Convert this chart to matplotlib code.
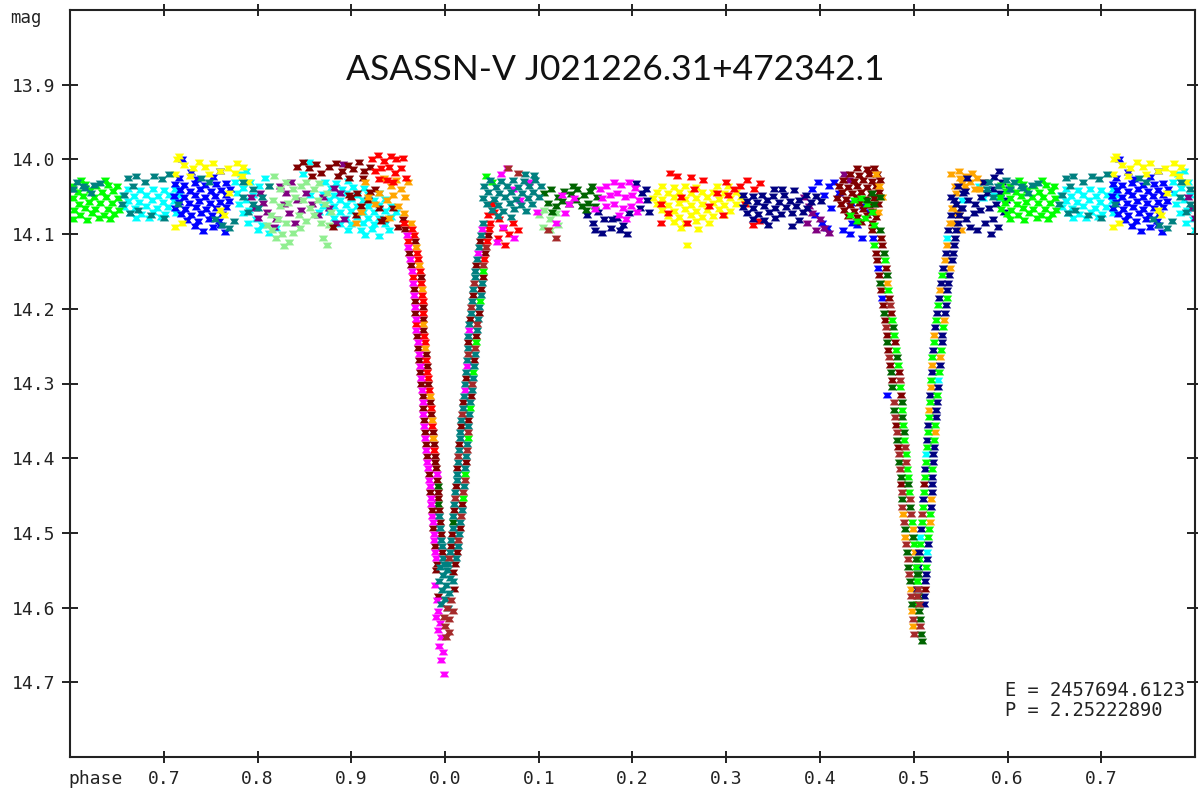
import matplotlib
matplotlib.use("Agg")
import matplotlib.pyplot as plt
from matplotlib.path import Path

TITLE = "ASASSN-V J021226.31+472342.1"
EPOCH_TEXT = "E = 2457694.6123"
PERIOD_TEXT = "P = 2.25222890"
XTICKS = [0.7, 0.8, 0.9, 1.0, 1.1, 1.2, 1.3, 1.4, 1.5, 1.6, 1.7]
XTICK_LABELS = ["0.7", "0.8", "0.9", "0.0", "0.1", "0.2", "0.3", "0.4", "0.5", "0.6", "0.7"]
YTICKS = [13.9, 14.0, 14.1, 14.2, 14.3, 14.4, 14.5, 14.6, 14.7]
YTICK_LABELS = ["13.9", "14.0", "14.1", "14.2", "14.3", "14.4", "14.5", "14.6", "14.7"]

# (phase, mag) points per observing season / colour
CYAN_PTS = [
    (0.662,14.040),(0.675,14.041),(0.688,14.039),(0.700,14.041),(0.712,14.040),
    (0.657,14.048),(0.668,14.049),(0.681,14.047),(0.694,14.049),(0.706,14.048),(0.716,14.047),
    (0.662,14.056),(0.674,14.057),(0.687,14.055),(0.699,14.057),(0.711,14.056),
    (0.658,14.064),(0.669,14.065),(0.681,14.063),(0.693,14.065),(0.705,14.064),
    (0.664,14.072),(0.676,14.073),(0.689,14.071),(0.701,14.073),(0.713,14.072),
    (0.670,14.078),(0.684,14.079),(0.697,14.077),
    (0.776,14.030),(0.782,14.020),(0.788,14.015),(0.778,14.045),(0.785,14.038),(0.792,14.030),
    (0.780,14.060),(0.788,14.055),(0.795,14.048),(0.784,14.072),(0.791,14.068),(0.798,14.080),
    (0.790,14.085),(0.800,14.095),(0.805,14.088),(0.812,14.098),(0.802,14.035),(0.808,14.025),
    (0.820,14.092),(0.855,14.003),(0.848,14.020),(0.856,14.048),(0.866,14.070),
    (0.872,14.030),(0.884,14.031),(0.896,14.029),
    (0.878,14.038),(0.890,14.039),(0.902,14.037),(0.914,14.038),
    (0.870,14.046),(0.882,14.047),(0.894,14.045),(0.906,14.047),(0.918,14.046),(0.930,14.045),
    (0.876,14.054),(0.888,14.055),(0.900,14.053),(0.912,14.055),(0.924,14.054),(0.936,14.053),
    (0.870,14.062),(0.882,14.063),(0.894,14.061),(0.906,14.063),(0.918,14.062),(0.930,14.061),(0.942,14.063),
    (0.876,14.070),(0.888,14.071),(0.900,14.069),(0.912,14.071),(0.924,14.070),(0.936,14.069),(0.948,14.071),
    (0.882,14.078),(0.894,14.079),(0.906,14.077),(0.918,14.079),(0.930,14.078),(0.942,14.077),
    (0.888,14.086),(0.900,14.087),(0.912,14.085),(0.924,14.087),(0.936,14.086),
    (0.896,14.094),(0.910,14.095),(0.922,14.093),(0.940,14.095),(0.915,14.101),(0.930,14.102),
    (0.551,14.055),(0.536,14.105),(0.526,14.295),(0.513,14.395),(0.507,14.505),(0.514,14.525),
    (0.570,14.035),(0.578,14.040),(0.586,14.048),(0.592,14.052),(0.574,14.052),
]

BLUE_PTS = [
    (0.716,14.025),(0.735,14.026),(0.752,14.024),
    (0.712,14.033),(0.722,14.034),(0.733,14.032),(0.744,14.034),(0.756,14.033),(0.766,14.032),
    (0.717,14.041),(0.728,14.042),(0.739,14.040),(0.750,14.042),(0.761,14.041),(0.771,14.040),
    (0.711,14.049),(0.722,14.050),(0.733,14.048),(0.744,14.050),(0.755,14.049),(0.766,14.048),
    (0.716,14.057),(0.727,14.058),(0.738,14.056),(0.749,14.058),(0.760,14.057),(0.770,14.056),
    (0.712,14.065),(0.723,14.066),(0.734,14.064),(0.745,14.066),(0.756,14.065),(0.766,14.064),
    (0.718,14.073),(0.729,14.074),(0.740,14.072),(0.751,14.074),(0.762,14.073),
    (0.725,14.081),(0.737,14.082),(0.748,14.080),(0.759,14.082),
    (0.733,14.089),(0.752,14.090),(0.760,14.088),(0.742,14.096),(0.765,14.097),
    (0.729,14.017),(0.760,14.016),(0.719,14.000),
    (0.392,14.040),(0.398,14.030),(0.404,14.048),(0.410,14.035),(0.395,14.075),(0.402,14.085),
    (0.408,14.092),(0.412,14.065),(0.415,14.030),(0.425,14.095),(0.432,14.100),(0.440,14.088),
    (0.445,14.105),(0.420,14.045),
    (0.433,14.058),(0.446,14.062),(0.452,14.070),(0.434,14.085),
    (0.457,14.105),(0.462,14.145),(0.466,14.185),(0.472,14.315),
]

YELLOW_PTS = [
    (0.714,14.000),(0.716,13.995),(0.722,14.008),(0.731,14.012),(0.738,14.003),(0.744,14.010),
    (0.752,14.005),(0.760,14.016),(0.768,14.012),(0.776,14.018),(0.783,14.022),(0.790,14.030),
    (0.712,14.020),(0.719,14.085),(0.712,14.090),(0.760,14.068),(0.764,14.075),(0.728,14.022),
    (0.748,14.020),(0.770,14.045),(0.785,14.010),(0.778,14.005),
    (0.232,14.036),(0.244,14.037),(0.256,14.035),(0.268,14.037),(0.290,14.036),(0.302,14.035),
    (0.226,14.044),(0.238,14.045),(0.250,14.043),(0.262,14.045),(0.274,14.044),(0.286,14.043),(0.298,14.045),(0.310,14.044),
    (0.222,14.052),(0.232,14.053),(0.244,14.051),(0.256,14.053),(0.268,14.052),(0.280,14.051),(0.292,14.053),(0.304,14.052),(0.316,14.051),
    (0.226,14.060),(0.238,14.061),(0.250,14.059),(0.262,14.061),(0.274,14.060),(0.286,14.059),(0.298,14.061),(0.310,14.060),(0.320,14.059),
    (0.232,14.068),(0.244,14.069),(0.256,14.067),(0.268,14.069),(0.280,14.068),(0.292,14.067),(0.304,14.069),
    (0.238,14.076),(0.250,14.077),(0.262,14.075),(0.274,14.077),(0.286,14.076),(0.298,14.075),
    (0.244,14.084),(0.256,14.085),(0.268,14.083),(0.282,14.085),(0.252,14.092),(0.270,14.093),
    (0.258,14.115),
]

PURPLE_PTS = [
    (0.793,14.050),(0.797,14.065),(0.800,14.078),(0.806,14.058),(0.810,14.070),(0.803,14.045),
    (0.824,14.035),(0.830,14.045),(0.836,14.030),(0.842,14.055),(0.828,14.060),(0.834,14.072),
    (0.840,14.085),(0.846,14.068),(0.852,14.045),(0.858,14.060),(0.864,14.075),(0.870,14.050),
    (0.882,14.038),(0.888,14.045),(0.884,14.085),(0.892,14.080),(0.891,14.006),(0.876,14.065),
    (0.818,14.090),(0.820,14.080),
    (0.383,14.050),(0.388,14.062),(0.392,14.072),(0.386,14.085),(0.396,14.095),(0.400,14.080),
    (0.404,14.092),(0.410,14.098),(0.426,14.020),(0.431,14.028),
]

LIGHTGREEN_PTS = [
    (0.812,14.035),(0.818,14.022),(0.824,14.040),(0.830,14.030),(0.838,14.040),(0.846,14.035),
    (0.852,14.030),(0.860,14.040),(0.866,14.032),(0.874,14.045),(0.816,14.055),(0.824,14.062),
    (0.832,14.058),(0.840,14.050),(0.848,14.055),(0.856,14.065),(0.864,14.055),(0.872,14.060),
    (0.878,14.070),(0.814,14.075),(0.822,14.080),(0.830,14.085),(0.844,14.075),(0.852,14.082),
    (0.860,14.075),(0.868,14.085),(0.876,14.088),(0.815,14.095),(0.820,14.105),(0.826,14.100),
    (0.834,14.110),(0.838,14.098),(0.828,14.116),(0.870,14.105),(0.874,14.115),(0.845,14.092),
    (0.810,14.088),
    (0.100,14.075),(0.106,14.068),(0.112,14.080),(0.118,14.072),(0.104,14.090),(0.112,14.095),(0.120,14.088),
]

MAROON_PTS = [
    (0.842,14.010),(0.848,14.004),(0.855,14.012),(0.862,14.006),(0.868,14.018),(0.876,14.010),
    (0.884,14.005),(0.890,14.015),(0.896,14.008),(0.902,14.013),(0.908,14.004),(0.914,14.016),
    (0.920,14.010),(0.886,14.022),(0.898,14.025),(0.912,14.025),(0.858,14.022),(0.900,14.050),
    (0.906,14.045),(0.918,14.055),(0.925,14.040),(0.930,14.065),(0.935,14.080),(0.880,14.090),
    (0.898,14.048),(0.910,14.062),(0.920,14.044),(0.905,14.075),(0.932,14.082),(0.945,14.065),
    (0.950,14.090),(0.955,14.080),
    (0.440,14.012),(0.450,14.013),(0.458,14.011),
    (0.432,14.020),(0.442,14.021),(0.452,14.019),(0.461,14.020),
    (0.425,14.028),(0.436,14.029),(0.446,14.027),(0.456,14.029),(0.464,14.028),
    (0.420,14.036),(0.430,14.037),(0.440,14.035),(0.450,14.037),(0.460,14.036),
    (0.424,14.044),(0.434,14.045),(0.444,14.043),(0.454,14.045),(0.463,14.044),
    (0.418,14.052),(0.428,14.053),(0.438,14.051),(0.448,14.053),(0.458,14.052),
    (0.422,14.060),(0.432,14.061),(0.442,14.059),(0.452,14.061),(0.462,14.060),
    (0.426,14.068),(0.436,14.069),(0.446,14.067),(0.456,14.069),
    (0.430,14.076),(0.440,14.077),(0.450,14.075),(0.460,14.077),(0.444,14.084),(0.455,14.085),
    (0.957,14.093),(0.968,14.109),(0.962,14.125),(0.964,14.141),(0.974,14.157),(0.967,14.173),
    (0.968,14.189),(0.976,14.197),(0.968,14.205),(0.977,14.213),(0.977,14.229),(0.970,14.237),
    (0.971,14.253),(0.980,14.261),(0.972,14.269),(0.981,14.277),(0.973,14.285),(0.974,14.301),
    (0.982,14.301),(0.976,14.317),(0.984,14.325),(0.977,14.333),(0.985,14.341),(0.978,14.349),
    (0.979,14.365),(0.987,14.365),(0.980,14.381),(0.988,14.381),(0.981,14.397),(0.989,14.397),
    (0.989,14.405),(0.990,14.413),(0.983,14.421),(0.991,14.429),(0.984,14.445),(0.992,14.445),
    (0.993,14.453),(0.986,14.469),(0.994,14.469),(0.995,14.485),(0.987,14.493),(0.996,14.501),
    (0.989,14.517),(0.997,14.525),(0.991,14.541),
    (0.046,14.101),(0.037,14.109),(0.043,14.125),(0.033,14.141),(0.040,14.157),(0.038,14.173),
    (0.030,14.181),(0.036,14.205),(0.027,14.213),(0.033,14.237),(0.025,14.245),(0.031,14.269),
    (0.022,14.293),(0.028,14.317),(0.019,14.325),(0.025,14.349),(0.017,14.357),(0.015,14.381),
    (0.022,14.405),(0.013,14.413),(0.012,14.437),(0.018,14.461),(0.010,14.469),(0.016,14.493),
    (0.007,14.501),(0.006,14.517),(0.013,14.525),(0.011,14.541),
    (0.990,14.550),(0.008,14.552),(0.010,14.575),(0.992,14.585),
    (0.456,14.095),(0.465,14.105),(0.466,14.115),(0.460,14.125),(0.461,14.135),(0.470,14.145),
    (0.463,14.155),(0.465,14.175),(0.474,14.185),(0.467,14.195),(0.476,14.205),(0.469,14.215),
    (0.471,14.235),(0.480,14.245),(0.473,14.255),(0.475,14.275),(0.484,14.285),(0.477,14.295),
    (0.486,14.315),(0.481,14.355),(0.483,14.385),(0.486,14.435),
    (0.511,14.435),(0.512,14.575),
]

ORANGE_PTS = [
    (0.935,14.025),(0.942,14.035),(0.948,14.028),(0.953,14.040),(0.957,14.050),(0.945,14.048),
    (0.938,14.055),(0.930,14.045),(0.925,14.060),(0.950,14.062),(0.956,14.072),(0.918,14.050),
    (0.910,14.070),(0.905,14.085),(0.940,14.078),(0.960,14.030),(0.915,14.030),
    (0.540,14.020),(0.548,14.015),(0.556,14.022),(0.562,14.018),(0.568,14.025),(0.574,14.030),
    (0.544,14.035),(0.552,14.032),(0.560,14.030),(0.541,14.065),(0.546,14.072),(0.543,14.085),
    (0.550,14.095),(0.565,14.040),(0.571,14.040),
    (0.460,14.020),(0.463,14.035),(0.466,14.050),(0.462,14.070),
    (0.964,14.085),(0.969,14.117),(0.972,14.141),(0.975,14.173),(0.977,14.221),(0.979,14.253),
    (0.984,14.317),(0.986,14.349),(0.987,14.373),
    (0.472,14.165),(0.489,14.475),(0.499,14.495),(0.491,14.505),(0.501,14.525),(0.497,14.575),
    (0.498,14.605),(0.499,14.625),
    (0.549,14.025),(0.555,14.035),(0.545,14.045),(0.542,14.065),(0.548,14.075),(0.539,14.085),
    (0.535,14.115),(0.533,14.135),(0.539,14.145),(0.528,14.175),(0.532,14.215),(0.522,14.235),
    (0.528,14.265),(0.520,14.275),(0.518,14.305),(0.516,14.335),(0.523,14.365),(0.518,14.455),
    (0.517,14.485),
]

RED_PTS = [
    (0.922,14.000),(0.928,13.994),(0.935,14.002),(0.942,13.996),(0.948,14.000),(0.955,13.998),
    (0.925,14.015),(0.932,14.012),(0.940,14.010),(0.947,14.018),(0.953,14.012),(0.930,14.026),
    (0.938,14.028),(0.945,14.030),(0.958,14.025),
    (0.240,14.018),(0.248,14.022),(0.262,14.024),(0.275,14.028),(0.300,14.030),(0.308,14.040),
    (0.315,14.035),(0.322,14.028),(0.330,14.040),(0.336,14.032),(0.302,14.048),(0.230,14.060),
    (0.238,14.072),(0.252,14.050),(0.258,14.085),(0.266,14.040),(0.282,14.062),(0.290,14.045),
    (0.328,14.088),(0.335,14.082),(0.320,14.060),(0.296,14.075),(0.230,14.085),
    (0.956,14.085),(0.965,14.093),(0.967,14.101),(0.960,14.109),(0.970,14.125),(0.971,14.133),
    (0.973,14.149),(0.966,14.157),(0.974,14.165),(0.975,14.181),(0.976,14.189),(0.976,14.205),
    (0.969,14.221),(0.978,14.237),(0.979,14.245),(0.980,14.269),(0.981,14.285),(0.982,14.293),
    (0.983,14.309),(0.985,14.333),(0.986,14.357),(0.988,14.389),
    (0.048,14.085),(0.047,14.093),(0.045,14.109),(0.042,14.133),
    (0.052,14.070),(0.058,14.080),(0.062,14.092),(0.068,14.100),(0.056,14.105),(0.064,14.115),
    (0.072,14.085),(0.078,14.095),(0.050,14.060),(0.046,14.075),
]

NAVY_PTS = [
    (0.152,14.075),(0.158,14.085),(0.163,14.070),(0.170,14.080),(0.177,14.092),(0.184,14.078),
    (0.190,14.088),(0.196,14.072),(0.168,14.098),(0.178,14.080),(0.187,14.095),(0.160,14.095),
    (0.194,14.100),(0.204,14.032),(0.210,14.045),(0.215,14.055),(0.208,14.065),(0.214,14.040),
    (0.218,14.070),
    (0.318,14.048),(0.328,14.049),(0.338,14.047),(0.350,14.049),(0.362,14.048),(0.385,14.047),(0.396,14.049),
    (0.322,14.056),(0.333,14.057),(0.344,14.055),(0.356,14.057),(0.368,14.056),(0.378,14.055),(0.390,14.057),(0.401,14.056),
    (0.318,14.064),(0.328,14.065),(0.340,14.063),(0.352,14.065),(0.364,14.064),(0.374,14.063),(0.386,14.065),
    (0.322,14.072),(0.334,14.073),(0.346,14.071),(0.358,14.073),(0.370,14.072),(0.382,14.071),
    (0.328,14.080),(0.340,14.081),(0.352,14.079),(0.378,14.081),(0.345,14.088),(0.370,14.089),
    (0.360,14.040),(0.372,14.041),(0.351,14.039),
    (0.557,14.025),(0.547,14.035),(0.553,14.045),(0.543,14.055),(0.550,14.065),(0.540,14.075),
    (0.547,14.085),(0.537,14.095),(0.545,14.095),(0.544,14.105),(0.543,14.115),(0.534,14.125),
    (0.542,14.125),(0.541,14.135),(0.531,14.145),(0.538,14.155),(0.529,14.165),(0.537,14.165),
    (0.536,14.175),(0.527,14.185),(0.534,14.195),(0.525,14.205),(0.533,14.205),(0.523,14.225),
    (0.530,14.235),(0.530,14.245),(0.521,14.255),(0.528,14.275),(0.519,14.285),(0.526,14.305),
    (0.517,14.315),(0.525,14.325),(0.524,14.335),(0.524,14.345),(0.515,14.355),(0.514,14.375),
    (0.522,14.385),(0.521,14.395),(0.521,14.405),(0.512,14.415),(0.520,14.425),(0.519,14.435),
    (0.519,14.445),(0.510,14.455),(0.518,14.465),(0.508,14.495),(0.515,14.515),(0.506,14.525),
    (0.514,14.535),(0.505,14.545),(0.513,14.555),(0.512,14.565),(0.504,14.575),(0.511,14.585),
    (0.511,14.595),
    (0.545,14.060),(0.552,14.065),(0.558,14.055),(0.565,14.060),(0.572,14.050),(0.578,14.045),
    (0.585,14.040),(0.592,14.045),(0.598,14.055),(0.548,14.075),(0.556,14.080),(0.564,14.072),
    (0.571,14.068),(0.580,14.065),(0.588,14.060),(0.596,14.070),(0.560,14.090),(0.568,14.095),
    (0.576,14.085),(0.585,14.080),(0.590,14.090),(0.582,14.100),(0.602,14.040),(0.594,14.030),
    (0.586,14.024),(0.591,14.015),(0.575,14.030),(0.555,14.042),(0.540,14.050),
]

LIME_PTS = [
    (0.593,14.034),(0.603,14.036),(0.616,14.033),(0.628,14.035),(0.641,14.034),(0.650,14.036),
    (0.598,14.042),(0.609,14.044),(0.621,14.041),(0.634,14.043),(0.646,14.042),
    (0.592,14.050),(0.603,14.052),(0.614,14.049),(0.626,14.051),(0.638,14.050),(0.651,14.052),
    (0.597,14.058),(0.610,14.060),(0.620,14.057),(0.632,14.059),(0.645,14.058),
    (0.593,14.066),(0.604,14.068),(0.616,14.065),(0.627,14.067),(0.640,14.066),(0.652,14.068),
    (0.599,14.073),(0.611,14.075),(0.623,14.072),(0.636,14.074),(0.647,14.073),
    (0.603,14.080),(0.618,14.081),(0.631,14.079),(0.643,14.080),(0.612,14.028),(0.637,14.028),
    (0.040,14.149),(0.037,14.189),(0.033,14.245),(0.030,14.285),(0.027,14.333),(0.024,14.373),
    (0.021,14.421),(0.019,14.453),(0.044,14.022),(0.050,14.030),
    (0.458,14.115),(0.469,14.135),(0.473,14.175),(0.477,14.215),(0.479,14.235),(0.481,14.255),
    (0.483,14.275),(0.485,14.305),(0.487,14.335),(0.489,14.355),(0.490,14.375),(0.492,14.395),
    (0.493,14.415),(0.494,14.425),(0.495,14.445),(0.498,14.485),(0.500,14.515),(0.502,14.545),
    (0.504,14.565),
    (0.530,14.155),(0.535,14.185),(0.526,14.195),(0.524,14.215),(0.531,14.225),(0.522,14.245),
    (0.529,14.255),(0.520,14.265),(0.527,14.285),(0.518,14.295),(0.525,14.315),(0.517,14.325),
    (0.516,14.345),(0.523,14.355),(0.515,14.365),(0.522,14.375),(0.514,14.385),(0.513,14.405),
    (0.520,14.415),(0.512,14.425),(0.511,14.445),(0.510,14.465),(0.517,14.475),(0.509,14.485),
    (0.516,14.495),(0.515,14.505),(0.507,14.515),(0.506,14.535),(0.513,14.545),(0.504,14.565),
    (0.503,14.595),
    (0.432,14.075),(0.440,14.082),(0.448,14.078),(0.455,14.070),(0.436,14.055),(0.444,14.052),
    (0.450,14.060),(0.458,14.088),
]

DARKGREEN_PTS = [
    (0.106,14.045),(0.113,14.040),(0.120,14.050),(0.127,14.042),(0.134,14.046),(0.141,14.040),
    (0.148,14.048),(0.155,14.042),(0.162,14.050),(0.110,14.058),(0.118,14.062),(0.125,14.056),
    (0.132,14.060),(0.140,14.055),(0.146,14.062),(0.153,14.058),(0.160,14.062),(0.150,14.068),
    (0.114,14.070),(0.137,14.036),(0.157,14.035),
    (0.450,14.055),(0.458,14.060),(0.464,14.050),(0.455,14.045),
    (0.992,14.437),(0.993,14.461),(0.008,14.485),(0.505,14.555),
    (0.464,14.095),(0.468,14.125),(0.471,14.155),(0.464,14.165),(0.468,14.205),(0.478,14.225),
    (0.472,14.245),(0.482,14.265),(0.476,14.285),(0.477,14.305),(0.487,14.325),(0.479,14.335),
    (0.488,14.345),(0.490,14.365),(0.482,14.375),(0.484,14.405),(0.486,14.425),(0.494,14.435),
    (0.488,14.455),(0.496,14.465),(0.491,14.495),(0.499,14.505),(0.493,14.525),(0.502,14.535),
    (0.494,14.545),(0.503,14.555),(0.496,14.565),(0.505,14.585),(0.498,14.595),(0.506,14.605),
    (0.507,14.615),(0.508,14.635),(0.509,14.645),
]

MAGENTA_PTS = [
    (0.165,14.040),(0.172,14.035),(0.180,14.030),(0.188,14.034),(0.196,14.030),(0.203,14.038),
    (0.168,14.052),(0.176,14.048),(0.184,14.045),(0.192,14.050),(0.200,14.048),(0.207,14.055),
    (0.172,14.062),(0.180,14.060),(0.190,14.065),(0.198,14.062),(0.205,14.070),(0.160,14.066),
    (0.186,14.075),(0.193,14.080),(0.125,14.048),(0.132,14.060),(0.138,14.052),(0.128,14.072),
    (0.118,14.085),(0.060,14.020),(0.066,14.012),(0.072,14.040),(0.080,14.055),(0.090,14.030),
    (0.098,14.070),(0.062,14.090),(0.074,14.105),(0.055,14.110),
    (0.959,14.101),(0.961,14.117),(0.963,14.133),(0.965,14.149),(0.966,14.165),(0.967,14.181),
    (0.968,14.197),(0.969,14.213),(0.969,14.229),(0.971,14.245),(0.972,14.261),(0.973,14.277),
    (0.974,14.293),(0.975,14.309),(0.976,14.325),(0.977,14.341),(0.978,14.357),(0.979,14.373),
    (0.980,14.389),(0.981,14.405),(0.982,14.413),(0.991,14.421),(0.983,14.429),(0.984,14.437),
    (0.985,14.453),(0.985,14.461),(0.986,14.477),(0.987,14.485),(0.988,14.501),(0.988,14.509),
    (0.989,14.525),(0.990,14.533),
    (0.039,14.093),(0.035,14.125),(0.026,14.229),(0.023,14.277),(0.021,14.309),
    (0.989,14.570),(0.991,14.590),(0.993,14.605),(0.990,14.612),(0.995,14.620),(0.993,14.630),
    (0.996,14.640),(0.994,14.652),(0.998,14.660),(0.996,14.670),(0.9985,14.689),
]

TEAL_PTS = [
    (0.578,14.040),(0.585,14.050),(0.590,14.035),(0.607,14.030),(0.616,14.038),(0.626,14.034),
    (0.622,14.045),(0.632,14.032),(0.580,14.030),(0.598,14.028),(0.603,14.040),(0.614,14.036),
    (0.662,14.025),(0.670,14.022),(0.680,14.030),(0.667,14.035),(0.690,14.022),(0.698,14.026),
    (0.706,14.020),(0.664,14.072),(0.672,14.068),(0.686,14.074),(0.700,14.078),(0.715,14.060),
    (0.740,14.025),(0.748,14.030),(0.755,14.080),(0.762,14.088),(0.770,14.092),(0.775,14.082),
    (0.784,14.050),(0.790,14.070),(0.795,14.060),(0.655,14.060),(0.658,14.048),
    (0.785,14.030),(0.795,14.040),(0.805,14.050),(0.812,14.035),(0.800,14.065),
    (0.085,14.020),(0.095,14.021),
    (0.048,14.028),(0.060,14.029),(0.072,14.027),(0.084,14.029),(0.096,14.028),
    (0.042,14.036),(0.054,14.037),(0.066,14.035),(0.078,14.037),(0.090,14.036),(0.102,14.035),
    (0.046,14.044),(0.058,14.045),(0.070,14.043),(0.082,14.045),(0.094,14.044),
    (0.040,14.052),(0.052,14.053),(0.064,14.051),(0.076,14.053),(0.088,14.052),(0.100,14.051),
    (0.045,14.060),(0.057,14.061),(0.069,14.059),(0.081,14.061),(0.093,14.060),
    (0.050,14.068),(0.062,14.069),(0.074,14.067),(0.086,14.069),(0.056,14.076),(0.070,14.077),
    (0.040,14.085),(0.038,14.101),(0.036,14.117),(0.034,14.133),(0.032,14.149),(0.032,14.157),
    (0.039,14.165),(0.030,14.173),(0.038,14.181),(0.029,14.189),(0.036,14.197),(0.028,14.205),
    (0.035,14.213),(0.026,14.221),(0.034,14.229),(0.025,14.237),(0.024,14.253),(0.032,14.261),
    (0.023,14.269),(0.031,14.277),(0.022,14.285),(0.030,14.293),(0.021,14.301),(0.029,14.309),
    (0.020,14.317),(0.027,14.325),(0.019,14.333),(0.026,14.341),(0.017,14.349),(0.025,14.357),
    (0.016,14.365),(0.016,14.373),(0.023,14.381),(0.015,14.389),(0.022,14.397),(0.014,14.405),
    (0.021,14.413),(0.013,14.421),(0.013,14.429),(0.020,14.437),(0.011,14.445),(0.010,14.461),
    (0.018,14.469),(0.009,14.477),(0.016,14.485),(0.008,14.493),(0.015,14.501),(0.006,14.509),
    (0.014,14.517),(0.005,14.525),(0.012,14.533),(0.003,14.541),
    (0.994,14.477),(0.995,14.493),(0.996,14.509),(0.997,14.517),(0.998,14.533),(0.999,14.541),
    (0.995,14.545),(0.002,14.550),(0.998,14.556),(0.005,14.560),(0.994,14.565),(0.001,14.570),
    (0.008,14.565),(0.997,14.576),(0.004,14.580),(0.000,14.588),(0.996,14.595),(0.003,14.600),
]

BROWN_PTS = [
    (0.067,14.012),(0.078,14.018),(0.110,14.095),(0.118,14.105),
    (0.044,14.117),(0.041,14.141),(0.031,14.165),(0.028,14.197),(0.034,14.221),(0.032,14.253),
    (0.024,14.261),(0.029,14.301),(0.018,14.341),(0.024,14.365),(0.023,14.389),(0.014,14.397),
    (0.021,14.429),(0.019,14.445),(0.011,14.453),(0.017,14.477),(0.014,14.509),(0.004,14.533),
    (0.006,14.590),(0.002,14.600),(0.008,14.605),(0.004,14.615),(0.000,14.625),(0.004,14.632),
    (0.001,14.640),(0.999,14.612),
    (0.475,14.195),(0.470,14.225),(0.474,14.265),(0.485,14.295),(0.479,14.325),(0.480,14.345),
    (0.482,14.365),(0.491,14.385),(0.484,14.395),(0.492,14.405),(0.485,14.415),(0.487,14.445),
    (0.496,14.455),(0.488,14.465),(0.497,14.475),(0.490,14.485),(0.492,14.515),(0.494,14.535),
    (0.495,14.555),(0.505,14.575),(0.497,14.585),(0.506,14.595),(0.499,14.615),(0.507,14.625),
    (0.500,14.635),
    (0.509,14.475),(0.503,14.585),
]

SERIES = [
    ("#00ffff", CYAN_PTS), ("#0000ff", BLUE_PTS), ("#ffff00", YELLOW_PTS),
    ("#800080", PURPLE_PTS), ("#90ee90", LIGHTGREEN_PTS), ("#800000", MAROON_PTS),
    ("#ffa500", ORANGE_PTS), ("#ff0000", RED_PTS), ("#000080", NAVY_PTS),
    ("#00ff00", LIME_PTS), ("#006400", DARKGREEN_PTS), ("#ff00ff", MAGENTA_PTS),
    ("#008080", TEAL_PTS), ("#a52a2a", BROWN_PTS),
]

X_MIN, X_MAX = 0.6, 1.8
Y_TOP, Y_BOTTOM = 13.8, 14.8


def unfold(points):
    xs, ys = [], []
    for ph, mag in points:
        if ph >= X_MIN:
            xs.append(ph); ys.append(mag)
        if ph + 1.0 <= X_MAX:
            xs.append(ph + 1.0); ys.append(mag)
    return xs, ys


W, H = 1198, 795
fig = plt.figure(figsize=(W / 100, H / 100), dpi=100)
fig.patch.set_facecolor("white")
ax = fig.add_axes([70 / W, 1 - 757 / H, (1195 - 70) / W, (757 - 10) / H])

hourglass = Path([(-1, 0.62), (1, 0.62), (0.55, 0), (1, -0.62), (-1, -0.62), (-0.55, 0), (-1, 0.62)],
                 [Path.MOVETO] + [Path.LINETO] * 5 + [Path.CLOSEPOLY])

for color, pts in SERIES:
    xs, ys = unfold(pts)
    ax.scatter(xs, ys, s=46, marker=hourglass, c=color, linewidths=0, zorder=2)

ax.set_xlim(X_MIN, X_MAX)
ax.set_ylim(Y_BOTTOM, Y_TOP)
ax.set_xticks(XTICKS)
ax.set_xticklabels(XTICK_LABELS)
ax.set_yticks(YTICKS)
ax.set_yticklabels(YTICK_LABELS)

mono = "DejaVu Sans Mono"
for sp in ax.spines.values():
    sp.set_linewidth(1.5)
    sp.set_color("#222222")
ax.tick_params(axis="x", direction="inout", length=8, width=1.4, top=True, bottom=True,
               labelsize=13, pad=5, colors="#222222")
ax.tick_params(axis="y", direction="inout", length=11, width=1.4, left=True, right=True,
               labelsize=13, pad=5, colors="#222222")
for lab in ax.get_xticklabels() + ax.get_yticklabels():
    lab.set_family(mono)

fig.text(10 / W, 1 - 18 / H, "mag", family=mono, fontsize=12.5, ha="left", va="center", color="#222222")
fig.text(68 / W, 1 - 779 / H, "phase", family=mono, fontsize=13, ha="left", va="center", color="#222222")
fig.text(615 / W, 1 - 70 / H, TITLE, family="Lato", fontsize=25.5, ha="center", va="center", color="#111111")
fig.text(1005 / W, 1 - 690 / H, EPOCH_TEXT, family=mono, fontsize=13.5, ha="left", va="center", color="#222222")
fig.text(1005 / W, 1 - 711 / H, PERIOD_TEXT, family=mono, fontsize=13.5, ha="left", va="center", color="#222222")

fig.savefig("out.png", dpi=100, facecolor="white")
